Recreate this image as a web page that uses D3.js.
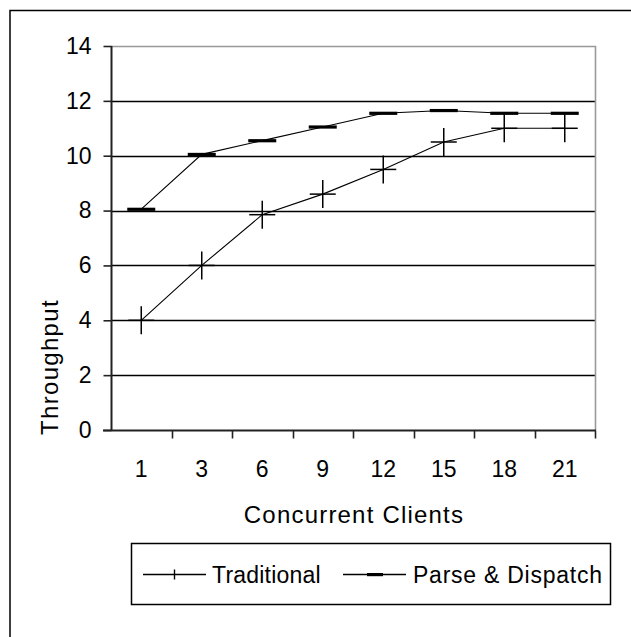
<!DOCTYPE html>
<html><head><meta charset="utf-8">
<script src="https://cdn.jsdelivr.net/npm/d3@7"></script>
<style>
html,body{margin:0;padding:0;background:#fff;}
svg text{font-family:"Liberation Sans",Arial,sans-serif;fill:#000;}
</style></head>
<body><svg id="c" width="631" height="637"></svg>
<script>
const categories = ["1","3","6","9","12","15","18","21"];
const traditional = [4, 6, 7.85, 8.6, 9.5, 10.5, 11, 11];
const parseDispatch = [8.05, 10.05, 10.55, 11.05, 11.55, 11.65, 11.55, 11.55];
const yTicks = [0, 2, 4, 6, 8, 10, 12, 14];
const seriesNames = ["Traditional", "Parse & Dispatch"];

const svg = d3.select("#c");
const L = 111, R = 595, T = 46, B = 430;
const x = d3.scaleBand().domain(categories).range([L, R]).padding(0);
const y = d3.scaleLinear().domain([0, 14]).range([B, T]);
const fsTick = 23, fsTitle = 24, fsLeg = 23;

// outer border
svg.append("rect").attr("x", 10).attr("y", 10.5).attr("width", 700).attr("height", 700)
  .attr("fill", "none").attr("stroke", "#000").attr("stroke-width", 1.5);

// gridlines
svg.append("g").selectAll("line").data(yTicks.filter(d => d > 0 && d < 14)).join("line")
  .attr("x1", L).attr("x2", R).attr("y1", d => Math.round(y(d)) + 0.5).attr("y2", d => Math.round(y(d)) + 0.5)
  .attr("stroke", "#000").attr("stroke-width", 1.6);
// plot border top/right gray
svg.append("path").attr("d", `M${L},${T + 0.5}H${R + 0.5}V${B}`)
  .attr("fill", "none").attr("stroke", "#999").attr("stroke-width", 1.6);

// y axis
const yAxis = d3.axisLeft(y).tickValues(yTicks).tickSize(8).tickPadding(12);
const ya = svg.append("g").attr("transform", `translate(${L + 0.5},0)`).call(yAxis);
ya.select(".domain").remove();
ya.append("line").attr("x1", 0).attr("x2", 0).attr("y1", T).attr("y2", B + 1).attr("stroke", "#222").attr("stroke-width", 2);
ya.selectAll(".tick line").attr("stroke", "#222").attr("stroke-width", 1.6);
ya.selectAll(".tick text").attr("font-size", fsTick).attr("font-family", "Liberation Sans, Arial, sans-serif").attr("fill", "#000");

// x axis
const xa = svg.append("g").attr("transform", `translate(0,${B + 0.5})`);
xa.append("line").attr("x1", L - 8).attr("x2", R + 1).attr("stroke", "#222").attr("stroke-width", 2);
xa.selectAll("line.tk").data(categories).join("line").attr("class", "tk")
  .attr("x1", d => Math.round(x(d) + x.bandwidth()) + 0.5).attr("x2", d => Math.round(x(d) + x.bandwidth()) + 0.5)
  .attr("y1", 0).attr("y2", 8).attr("stroke", "#222").attr("stroke-width", 1.6);
xa.selectAll("text").data(categories).join("text")
  .attr("x", d => x(d) + x.bandwidth() / 2).attr("y", 46)
  .attr("text-anchor", "middle").attr("font-size", fsTick).text(d => d);

// axis titles
svg.append("text").attr("x", (L + R) / 2 + 1).attr("y", 523).attr("text-anchor", "middle")
  .attr("font-size", fsTitle).attr("letter-spacing", 1.2).text("Concurrent Clients");
svg.append("text").attr("transform", "translate(58,367) rotate(-90)").attr("text-anchor", "middle")
  .attr("font-size", fsTitle).attr("letter-spacing", 1.3).text("Throughput");

// lines
const cx = d => x(d) + x.bandwidth() / 2;
const line = d3.line().x(d => cx(d[0])).y(d => y(d[1]));
const tData = categories.map((c, i) => [c, traditional[i]]);
const pData = categories.map((c, i) => [c, parseDispatch[i]]);
svg.append("path").attr("d", line(tData)).attr("fill", "none").attr("stroke", "#000").attr("stroke-width", 1.1);
svg.append("path").attr("d", line(pData)).attr("fill", "none").attr("stroke", "#000").attr("stroke-width", 1.1);

// markers: plus
const plus = svg.append("g").selectAll("g").data(tData).join("g")
  .attr("transform", d => `translate(${cx(d[0])},${y(d[1])})`);
plus.append("line").attr("x1", -13).attr("x2", 13).attr("stroke", "#000").attr("stroke-width", 1.5);
plus.append("line").attr("y1", -14).attr("y2", 14).attr("stroke", "#000").attr("stroke-width", 1.5);
// markers: dash
svg.append("g").selectAll("rect").data(pData).join("rect")
  .attr("x", d => cx(d[0]) - 14).attr("y", d => y(d[1]) - 1.5).attr("width", 28).attr("height", 3.2).attr("fill", "#000");

// legend
const lg = svg.append("g");
lg.append("rect").attr("x", 131.5).attr("y", 543.5).attr("width", 479).attr("height", 61)
  .attr("fill", "#fff").attr("stroke", "#000").attr("stroke-width", 1.5);
const ly = 574.5;
lg.append("line").attr("x1", 143).attr("x2", 206).attr("y1", ly).attr("y2", ly).attr("stroke", "#000").attr("stroke-width", 1.4);
lg.append("line").attr("x1", 174.5).attr("x2", 174.5).attr("y1", ly - 5).attr("y2", ly + 5).attr("stroke", "#000").attr("stroke-width", 1.4);
lg.append("text").attr("x", 212).attr("y", ly + 8).attr("font-size", fsLeg).attr("letter-spacing", 0.2).text(seriesNames[0]);
lg.append("line").attr("x1", 343).attr("x2", 406).attr("y1", ly).attr("y2", ly).attr("stroke", "#000").attr("stroke-width", 1.4);
lg.append("rect").attr("x", 367).attr("y", ly - 1.5).attr("width", 16).attr("height", 3.2).attr("fill", "#000");
lg.append("text").attr("x", 413).attr("y", ly + 8).attr("font-size", fsLeg).attr("letter-spacing", 0.75).text(seriesNames[1]);
</script></body></html>
